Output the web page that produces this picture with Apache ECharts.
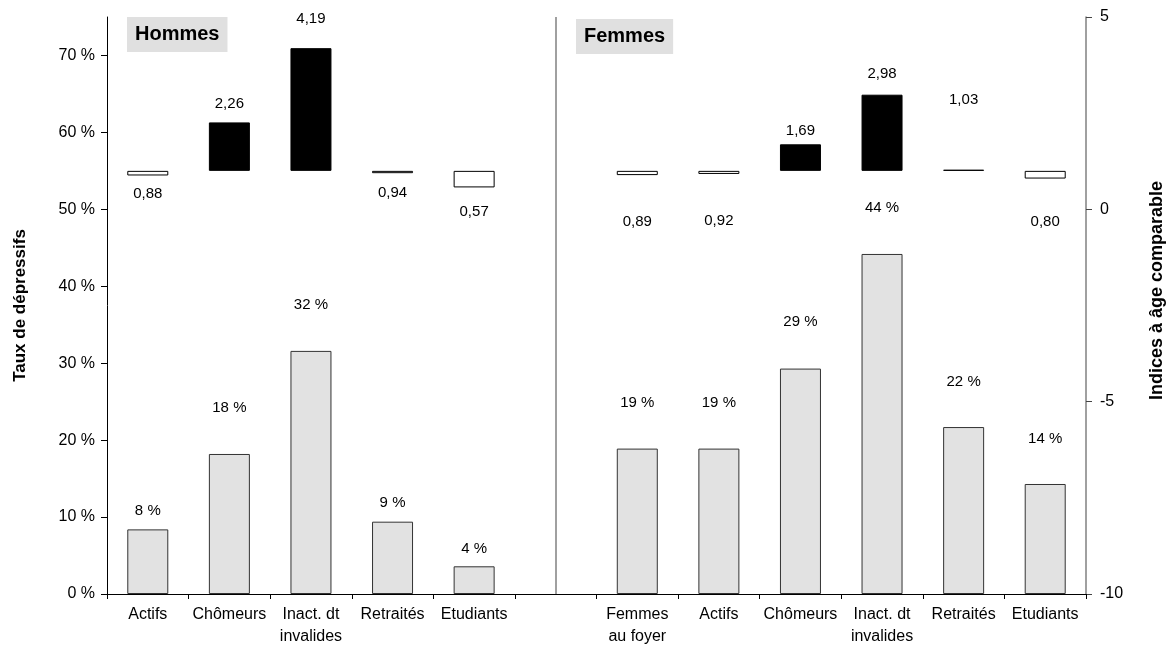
<!DOCTYPE html>
<html>
<head>
<meta charset="utf-8">
<script src="https://cdn.jsdelivr.net/npm/echarts@6/dist/echarts.min.js"></script>
<style>
html,body{margin:0;padding:0;background:#fff;}
#chart{width:1176px;height:657px;}
</style>
</head>
<body>
<div id="chart"></div>
<script>
var categories = ['Actifs','Chômeurs','Inact. dt\ninvalides','Retraités','Etudiants','','Femmes\nau foyer','Actifs','Chômeurs','Inact. dt\ninvalides','Retraités','Etudiants'];
var rates = [8.4, 18.2, 31.6, 9.4, 3.6, null, 18.9, 18.9, 29.3, 44.2, 21.7, 14.3];
var indices = [0.88, 2.26, 4.19, 0.94, 0.57, null, 0.89, 0.92, 1.69, 2.98, 1.03, 0.80];
var leftTicks = [0, 10, 20, 30, 40, 50, 60, 70];
var dividerIndex = 5;
var groupTitles = ['Hommes', 'Femmes'];
var baseline = 1;

// label placement tweaks (style only, pixels)
var rateLabelShift = [0, -28, -28, 0, 1, 0, -27, -27, -28, -28, -27, -27];
var indexLabelShift = [2, 0, -11, 3, 8, 0, 30, 30, 5, -2, -51, 27];

var FONT = 'Liberation Sans, Arial, sans-serif';

var rateData = rates.map(function(v, i){
  if (v == null) return '-';
  return { value: v, label: { offset: [0, rateLabelShift[i]] } };
});
var baseData = indices.map(function(v){ return v == null ? '-' : Math.min(v, baseline); });
var deltaData = indices.map(function(v, i){
  if (v == null) return '-';
  var above = v >= baseline;
  return {
    value: Math.abs(v - baseline),
    itemStyle: { color: above ? '#000' : '#fff', borderColor: '#000', borderWidth: 1 },
    label: {
      show: true,
      position: above ? 'top' : 'bottom',
      distance: above ? 11 : 9,
      offset: [0, indexLabelShift[i]],
      formatter: v.toFixed(2).replace('.', ',')
    }
  };
});

var chart = echarts.init(document.getElementById('chart'));
chart.setOption({
  animation: false,
  textStyle: { fontFamily: FONT },
  title: [
    { text: groupTitles[0], left: 127, top: 17, backgroundColor: '#e0e0e0', padding: [7, 8, 7, 8],
      textStyle: { fontFamily: FONT, fontSize: 20, fontWeight: 'bold', color: '#000', lineHeight: 21 } },
    { text: groupTitles[1], left: 576, top: 19, backgroundColor: '#e0e0e0', padding: [7, 8, 7, 8],
      textStyle: { fontFamily: FONT, fontSize: 20, fontWeight: 'bold', color: '#000', lineHeight: 21 } }
  ],
  grid: { left: 107, right: 90, top: 17, bottom: 63, containLabel: false },
  xAxis: {
    type: 'category',
    data: categories,
    boundaryGap: true,
    axisLine: { lineStyle: { color: '#000', width: 1 } },
    axisTick: { show: true, length: 5, lineStyle: { color: '#000' } },
    axisLabel: { color: '#000', fontSize: 16, fontFamily: FONT, margin: 10, lineHeight: 22, interval: 0 }
  },
  yAxis: [
    {
      type: 'value', min: 0, max: 75, position: 'left',
      name: 'Taux de dépressifs', nameLocation: 'middle', nameRotate: 90, nameGap: 78,
      nameTextStyle: { fontFamily: FONT, fontSize: 17, fontWeight: 'bold', color: '#000' },
      axisLine: { show: true, lineStyle: { color: '#000', width: 1 } },
      axisTick: { show: true, length: 6, customValues: leftTicks, lineStyle: { color: '#000' } },
      axisLabel: { color: '#000', fontSize: 16, fontFamily: FONT, margin: 12, customValues: leftTicks,
        formatter: function(v){ return v + ' %'; } },
      splitLine: { show: false }
    },
    {
      type: 'value', min: -10, max: 5, interval: 5, position: 'right',
      name: 'Indices à âge comparable', nameLocation: 'middle', nameRotate: 90, nameGap: 62,
      nameTextStyle: { fontFamily: FONT, fontSize: 18, fontWeight: 'bold', color: '#000', padding: [0, 0, 0, 30] },
      axisLine: { show: true, lineStyle: { color: '#808080', width: 1.5 } },
      axisTick: { show: true, length: 6, lineStyle: { color: '#444' } },
      axisLabel: { color: '#000', fontSize: 16, fontFamily: FONT, margin: 14 },
      splitLine: { show: false }
    }
  ],
  series: [
    {
      name: 'Taux', type: 'bar', yAxisIndex: 0, data: rateData, barWidth: 41, barGap: '-100%',
      itemStyle: { color: '#e2e2e2', borderColor: '#333', borderWidth: 1 },
      label: { show: true, position: 'top', distance: 11, color: '#000', fontSize: 15, fontFamily: FONT,
        formatter: function(p){ return Math.round(p.value) + ' %'; } },
      emphasis: { disabled: true }, silent: true,
      markLine: {
        silent: true, symbol: 'none', label: { show: false },
        lineStyle: { color: '#808080', width: 1.5, type: 'solid' },
        data: [ { xAxis: dividerIndex } ]
      }
    },
    {
      name: 'base', type: 'bar', yAxisIndex: 1, stack: 'idx', data: baseData, barWidth: 41,
      itemStyle: { color: 'rgba(0,0,0,0)', borderWidth: 0 },
      emphasis: { disabled: true }, silent: true
    },
    {
      name: 'Indice', type: 'bar', yAxisIndex: 1, stack: 'idx', data: deltaData, barWidth: 41,
      label: { color: '#000', fontSize: 15, fontFamily: FONT },
      emphasis: { disabled: true }, silent: true
    }
  ]
});
</script>
</body>
</html>
